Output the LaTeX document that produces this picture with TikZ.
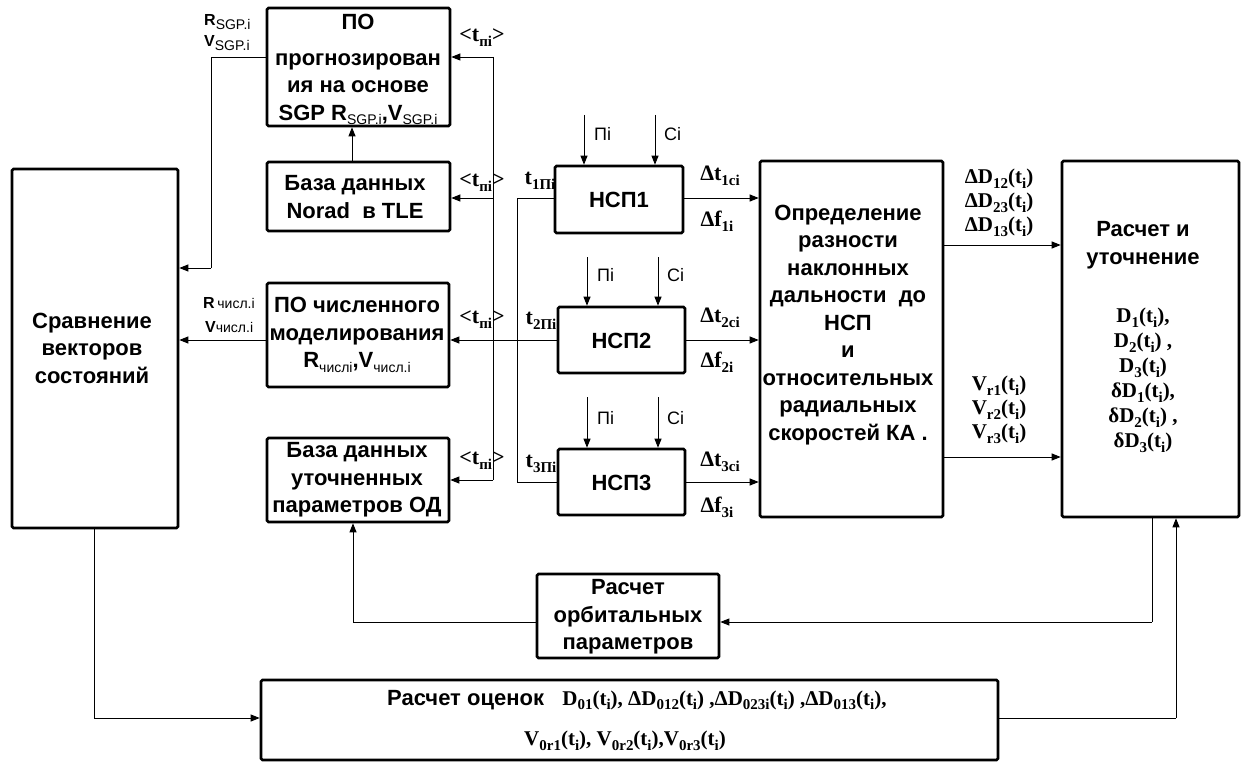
\documentclass[tikz,border=0pt]{standalone}
\usepackage{fontspec}
\setmainfont{Liberation Serif}
\newfontfamily\ar{Liberation Sans}
\usetikzlibrary{arrows.meta}
\newcommand\sbx[1]{\raisebox{-0.22em}{\fontsize{15}{15}\selectfont #1}}
\newcommand\ssb[1]{\raisebox{-0.2em}{\fontsize{14}{14}\selectfont\mdseries #1}}
\begin{document}
\begin{tikzpicture}[x=1pt,y=-1pt,
 box/.style={draw,line width=2.6pt,rounded corners=1.5pt,inner sep=0pt},
 con/.style={line width=0.9pt},
 arr/.style={con,-{Triangle[length=9pt,width=7pt]}},
 bt/.style={font=\ar\bfseries\fontsize{22}{27.5}\selectfont,align=center,inner sep=0pt},
 lb/.style={font=\bfseries\fontsize{22}{24}\selectfont,inner sep=0pt},
 sl/.style={font=\ar\fontsize{18}{20}\selectfont,inner sep=0pt},
 sm/.style={font=\ar\bfseries\fontsize{16}{18}\selectfont,inner sep=0pt,anchor=west}]
\useasboundingbox (0,0) rectangle (1242,762);
% boxes
\node[box,minimum width=166pt,minimum height=359pt] (cmp) at (95,348.5) {};
\node[box,minimum width=183pt,minimum height=118pt] (sgp) at (358.5,67) {};
\node[box,minimum width=183pt,minimum height=69pt] (norad) at (358.5,196.5) {};
\node[box,minimum width=182pt,minimum height=104pt] (chisl) at (358,335) {};
\node[box,minimum width=182pt,minimum height=84pt] (utoch) at (358,480) {};
\node[box,minimum width=128pt,minimum height=67pt] (nsp1) at (619,199.5) {};
\node[box,minimum width=127pt,minimum height=66pt] (nsp2) at (621.5,340) {};
\node[box,minimum width=127pt,minimum height=66pt] (nsp3) at (621.5,482) {};
\node[box,minimum width=183pt,minimum height=356pt] (opr) at (851.5,339) {};
\node[box,minimum width=177pt,minimum height=356pt] (rasch) at (1150.5,339) {};
\node[box,minimum width=182pt,minimum height=84pt] (orb) at (628,616) {};
\node[box,minimum width=737pt,minimum height=80pt] (est) at (629.5,720) {};
% box texts
\node[bt] (cmpt) at (92,348) {Сравнение\\векторов\\состояний};
\node[bt] (sgpt0) at (358,22) {ПО};
\node[bt] (sgpt) at (358,89) {прогнозирован\\ия на основе\\SGP R\ssb{SGP.i},V\ssb{SGP.i}};
\node[bt] (noradt) at (355,197) {База данных\\Norad\ \ в TLE};
\node[bt] (chislt) at (357,335) {ПО численного\\моделирования\\R\ssb{числi},V\ssb{числ.i}};
\node[bt] (utocht) at (357,480) {База данных\\уточненных\\параметров ОД};
\node[bt] (nsp1t) at (619,200) {НСП1};
\node[bt] (nsp2t) at (621.5,341) {НСП2};
\node[bt] (nsp3t) at (621.5,483) {НСП3};
\node[bt] (oprt) at (848,325) {Определение\\разности\\наклонных\\дальности\ \ до\\НСП\\и\\относительных\\радиальных\\скоростей КА .};
\node[bt] (rascht) at (1143,245) {Расчет и\\уточнение};
\node[lb,align=center,font=\bfseries\fontsize{21}{25}\selectfont] (raschv) at (1143,380) {D\sbx{1}(t\sbx{i}),\\D\sbx{2}(t\sbx{i}) ,\\D\sbx{3}(t\sbx{i})\\δD\sbx{1}(t\sbx{i}),\\δD\sbx{2}(t\sbx{i}) ,\\δD\sbx{3}(t\sbx{i})};
\node[bt] (orbt) at (628,617) {Расчет\\орбитальных\\параметров};
\node[bt,anchor=west] (estt1) at (387,700) {Расчет оценок\ \ \ {\mdseries\normalfont\bfseries\fontsize{21}{24}\selectfont D\sbx{01}(t\sbx{i}), ΔD\sbx{012}(t\sbx{i}) ,ΔD\sbx{023i}(t\sbx{i}) ,ΔD\sbx{013}(t\sbx{i}),}};
\node[lb,anchor=west,font=\bfseries\fontsize{21}{24}\selectfont] (estt2) at (524,741) {V\sbx{0r1}(t\sbx{i}), V\sbx{0r2}(t\sbx{i}),V\sbx{0r3}(t\sbx{i})};
% left labels
\node[sm] (lr1) at (204,22) {R\ssb{SGP.i}};
\node[sm] (lv1) at (204,43) {V\ssb{SGP.i}};
\node[sm] (lr2) at (203,303) {R\,{\mdseries\fontsize{14}{14}\selectfont числ.i}};
\node[sm] (lv2) at (205,327) {V{\mdseries\fontsize{14}{14}\selectfont числ.i}};
% connectors: SGP and chisl to compare
\coordinate (s1) at (211,57);
\coordinate (s2) at (211,268);
\draw[con] (sgp.west |- s1) -- (s1) -- (s2);
\draw[arr] (s2) -- (s2 -| cmp.east);
\coordinate (c1) at (260,340);
\draw[arr] (chisl.west |- c1) -- (c1 -| cmp.east);
\draw[arr] (norad.north -| 352,0) -- (sgp.south -| 352,0);
% bus
\coordinate (b1) at (493,57);
\coordinate (b2) at (493,198);
\coordinate (b3) at (493,340);
\coordinate (b4) at (493,480);
\draw[con] (b1) -- (b4);
\draw[arr] (b1) -- (b1 -| sgp.east);
\draw[arr] (b2) -- (b2 -| norad.east);
\draw[arr] (nsp2.west |- b3) -- (b3 -| chisl.east);
\draw[arr] (b4) -- (b4 -| utoch.east);
\node[lb] (tm1) at (482,38) {<t\sbx{пi}>};
\node[lb] (tm2) at (482,183) {<t\sbx{пi}>};
\node[lb] (tm3) at (482,320) {<t\sbx{пi}>};
\node[lb] (tm4) at (482,461) {<t\sbx{пi}>};
% nsp loop
\coordinate (n1) at (517,198);
\coordinate (n3) at (517,482);
\draw[con] (nsp1.west |- n1) -- (n1) -- (n3) -- (n3 -| nsp3.west);
\node[lb] (t1) at (540,181) {t\sbx{1Пi}};
\node[lb] (t2) at (541,321) {t\sbx{2Пi}};
\node[lb] (t3) at (541,464) {t\sbx{3Пi}};
% nsp inputs
\coordinate (p1) at (584,115); \coordinate (q1) at (655,115);
\coordinate (p2) at (587,257); \coordinate (q2) at (658,257);
\coordinate (p3) at (587,397); \coordinate (q3) at (658,397);
\draw[arr] (p1) -- (p1 |- nsp1.north);
\draw[arr] (q1) -- (q1 |- nsp1.north);
\draw[arr] (p2) -- (p2 |- nsp2.north);
\draw[arr] (q2) -- (q2 |- nsp2.north);
\draw[arr] (p3) -- (p3 |- nsp3.north);
\draw[arr] (q3) -- (q3 |- nsp3.north);
\node[sl,anchor=west] (lp1) at (594,134) {Пi};
\node[sl,anchor=west] (lc1) at (664,134) {Ci};
\node[sl,anchor=west] (lp2) at (597,275) {Пi};
\node[sl,anchor=west] (lc2) at (667,275) {Ci};
\node[sl,anchor=west] (lp3) at (597,418) {Пi};
\node[sl,anchor=west] (lc3) at (667,418) {Ci};
% nsp outputs
\coordinate (m2) at (700,340);
\draw[arr] (nsp1.east |- n1) -- (n1 -| opr.west);
\draw[arr] (nsp2.east |- m2) -- (m2 -| opr.west);
\draw[arr] (nsp3.east |- n3) -- (n3 -| opr.west);
\node[lb] (dt1) at (720,176) {Δt\sbx{1ci}};
\node[lb] (df1) at (717,221) {Δf\sbx{1i}};
\node[lb] (dt2) at (720,318) {Δt\sbx{2ci}};
\node[lb] (df2) at (717,362) {Δf\sbx{2i}};
\node[lb] (dt3) at (720,462) {Δt\sbx{3ci}};
\node[lb] (df3) at (717,507) {Δf\sbx{3i}};
% opr to rasch
\coordinate (o1) at (950,245);
\coordinate (o2) at (950,457);
\draw[arr] (opr.east |- o1) -- (o1 -| rasch.west);
\draw[arr] (opr.east |- o2) -- (o2 -| rasch.west);
\node[lb,align=center,font=\bfseries\fontsize{21}{24}\selectfont] (dd) at (999,203) {ΔD\sbx{12}(t\sbx{i})\\ΔD\sbx{23}(t\sbx{i})\\ΔD\sbx{13}(t\sbx{i})};
\node[lb,align=center,font=\bfseries\fontsize{21}{24}\selectfont] (vr) at (999,410) {V\sbx{r1}(t\sbx{i})\\V\sbx{r2}(t\sbx{i})\\V\sbx{r3}(t\sbx{i})};
% bottom loops
\coordinate (r1) at (1152,622);
\coordinate (r2) at (1176,718);
\coordinate (u1) at (353,622);
\coordinate (e1) at (94,718);
\draw[con] (r1 |- rasch.south) -- (r1);
\draw[arr] (r1) -- (r1 -| orb.east);
\draw[con] (orb.west |- u1) -- (u1);
\draw[arr] (u1) -- (u1 |- utoch.south);
\draw[con] (e1 |- cmp.south) -- (e1);
\draw[arr] (e1) -- (e1 -| est.west);
\draw[con] (est.east |- r2) -- (r2);
\draw[arr] (r2) -- (r2 |- rasch.south);
\end{tikzpicture}
\end{document}
